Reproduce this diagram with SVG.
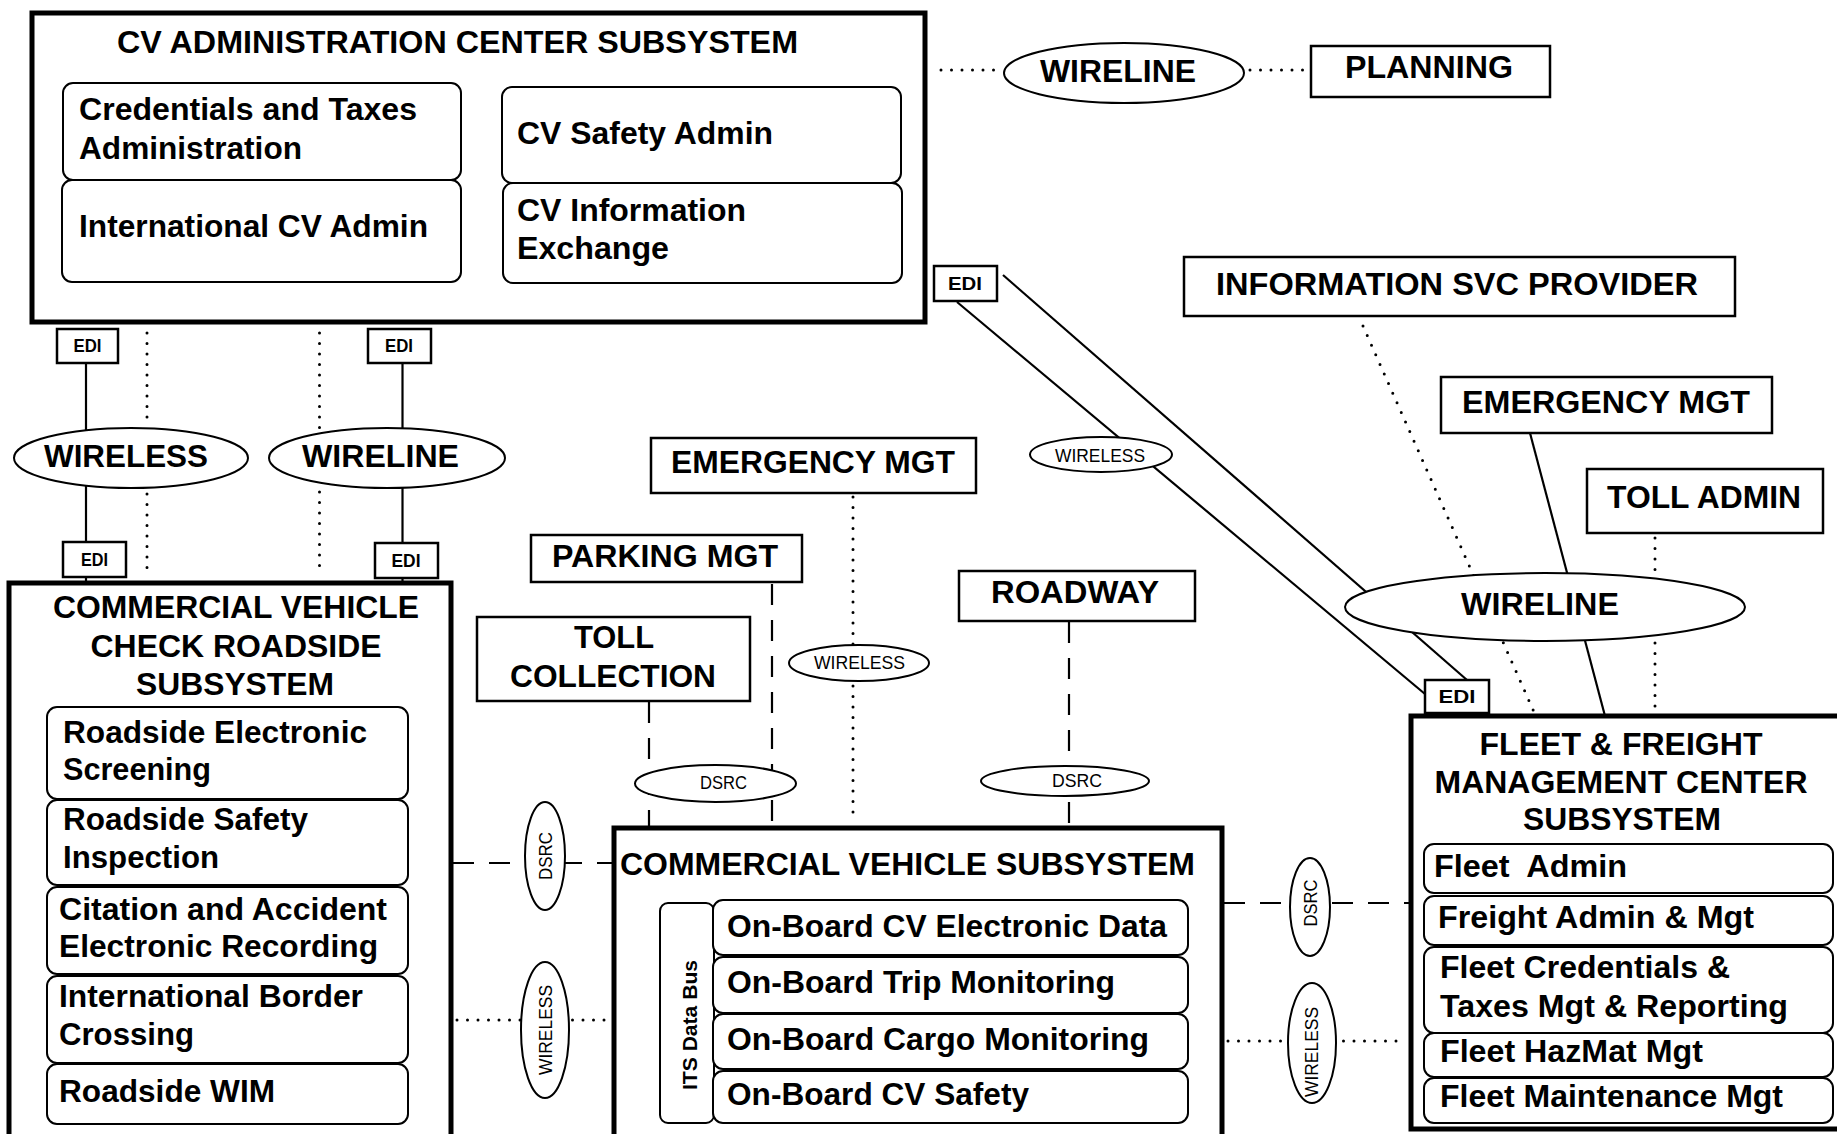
<svg xmlns="http://www.w3.org/2000/svg" width="1837" height="1134" viewBox="0 0 1837 1134">
<style>
  .big{fill:#fff;stroke:#000;stroke-width:5}
  .box{fill:#fff;stroke:#000;stroke-width:2.5}
  .inner{fill:#fff;stroke:#000;stroke-width:2}
  .ell{fill:#fff;stroke:#000;stroke-width:2}
  .solid{fill:none;stroke:#000;stroke-width:2.2}
  .dot{fill:none;stroke:#000;stroke-width:3;stroke-linecap:round;stroke-dasharray:0 10.5}
  .dash{fill:none;stroke:#000;stroke-width:2.2;stroke-dasharray:21 15}
  text{font-family:"Liberation Sans",Arial,sans-serif;fill:#000}
  .t{font-size:32px;font-weight:bold}
  .c{text-anchor:middle}
  .s{font-size:18px}
  .e{font-size:19px;font-weight:bold}
  .bus{font-size:21px;font-weight:bold}
</style>
<rect width="1837" height="1134" fill="#fff"/>

<!-- links between subsystems, with their media and EDI tags -->
<g id="connectors">
  <!-- admin center to planning -->
  <line class="dot" x1="941" y1="70" x2="1003" y2="70"/>
  <line class="dot" x1="1250" y1="70" x2="1309" y2="70"/>
  <!-- admin center to roadside -->
  <line class="solid" x1="86" y1="363" x2="86" y2="583"/>
  <line class="dot" x1="147" y1="333" x2="147" y2="422"/>
  <line class="dot" x1="147" y1="494" x2="147" y2="572"/>
  <line class="dot" x1="319.5" y1="333" x2="319.5" y2="432"/>
  <line class="dot" x1="319.5" y1="492" x2="319.5" y2="570"/>
  <line class="solid" x1="402.5" y1="363" x2="402.5" y2="583"/>
  <!-- admin center to fleet -->
  <line class="solid" x1="957" y1="302" x2="1425" y2="694"/>
  <line class="solid" x1="1003" y1="275" x2="1467" y2="680"/>
  <!-- fleet to ISP, emergency, toll admin -->
  <line class="dot" x1="1363" y1="326" x2="1534" y2="712"/>
  <line class="solid" x1="1530" y1="433" x2="1605" y2="716"/>
  <line class="dot" x1="1655" y1="538" x2="1655" y2="708"/>
  <!-- vehicle to field terminators -->
  <line class="dash" x1="649" y1="702" x2="649" y2="828"/>
  <line class="dash" x1="772" y1="584" x2="772" y2="828"/>
  <line class="dot" x1="853" y1="497" x2="853" y2="820"/>
  <line class="dash" x1="1069" y1="622" x2="1069" y2="828"/>
  <!-- vehicle to roadside and fleet -->
  <line class="dash" x1="453" y1="863" x2="612" y2="863"/>
  <line class="dot" x1="457" y1="1020" x2="608" y2="1020"/>
  <line class="dash" x1="1224" y1="903" x2="1409" y2="903"/>
  <line class="dot" x1="1228" y1="1041" x2="1403" y2="1041"/>

  <!-- media -->
  <g id="m-wireline-planning">
    <ellipse class="ell" cx="1124" cy="73" rx="120" ry="30"/>
    <text class="t c" x="1118" y="82" textLength="156" lengthAdjust="spacingAndGlyphs">WIRELINE</text>
  </g>
  <g id="m-wireless-roadside">
    <ellipse class="ell" cx="131" cy="458" rx="117" ry="30"/>
    <text class="t c" x="126" y="467" textLength="164" lengthAdjust="spacingAndGlyphs">WIRELESS</text>
  </g>
  <g id="m-wireline-roadside">
    <ellipse class="ell" cx="387" cy="458" rx="118" ry="30"/>
    <text class="t c" x="380.5" y="467" textLength="157" lengthAdjust="spacingAndGlyphs">WIRELINE</text>
  </g>
  <g id="m-wireless-fleet">
    <ellipse class="ell" cx="1101" cy="454.5" rx="71" ry="17.5"/>
    <text class="s c" x="1100" y="462" textLength="90" lengthAdjust="spacingAndGlyphs">WIRELESS</text>
  </g>
  <g id="m-wireline-fleet">
    <ellipse class="ell" cx="1545" cy="607" rx="200" ry="34"/>
    <text class="t c" x="1540" y="615" textLength="158" lengthAdjust="spacingAndGlyphs">WIRELINE</text>
  </g>
  <g id="m-wireless-em">
    <ellipse class="ell" cx="859" cy="663" rx="70" ry="18"/>
    <text class="s c" x="859.5" y="669" textLength="91" lengthAdjust="spacingAndGlyphs">WIRELESS</text>
  </g>
  <g id="m-dsrc-toll">
    <ellipse class="ell" cx="715.5" cy="783.5" rx="80.5" ry="18.5"/>
    <text class="s c" x="723.5" y="789" textLength="47" lengthAdjust="spacingAndGlyphs">DSRC</text>
  </g>
  <g id="m-dsrc-roadway">
    <ellipse class="ell" cx="1065" cy="781" rx="84" ry="15"/>
    <text class="s c" x="1077" y="787" textLength="50" lengthAdjust="spacingAndGlyphs">DSRC</text>
  </g>
  <g id="m-dsrc-left">
    <ellipse class="ell" cx="545" cy="856" rx="20" ry="54"/>
    <text class="s c" transform="translate(551.5 856) rotate(-90)" textLength="48" lengthAdjust="spacingAndGlyphs">DSRC</text>
  </g>
  <g id="m-wireless-left">
    <ellipse class="ell" cx="545" cy="1030" rx="24" ry="68"/>
    <text class="s c" transform="translate(551.5 1030) rotate(-90)" textLength="90" lengthAdjust="spacingAndGlyphs">WIRELESS</text>
  </g>
  <g id="m-dsrc-right">
    <ellipse class="ell" cx="1310" cy="907" rx="20" ry="49"/>
    <text class="s c" transform="translate(1316.5 903) rotate(-90)" textLength="47" lengthAdjust="spacingAndGlyphs">DSRC</text>
  </g>
  <g id="m-wireless-right">
    <ellipse class="ell" cx="1312" cy="1043" rx="24" ry="60"/>
    <text class="s c" transform="translate(1317.5 1052) rotate(-90)" textLength="90" lengthAdjust="spacingAndGlyphs">WIRELESS</text>
  </g>

  <!-- EDI tags -->
  <g id="edi-admin-fleet">
    <rect class="box" x="934" y="266" width="63" height="35"/>
    <text class="e c" x="965" y="290" textLength="34" lengthAdjust="spacingAndGlyphs">EDI</text>
  </g>
  <g id="edi-admin-1">
    <rect class="box" x="57" y="329" width="61" height="34"/>
    <text class="e c" x="87.5" y="352" textLength="28" lengthAdjust="spacingAndGlyphs">EDI</text>
  </g>
  <g id="edi-roadside-1">
    <rect class="box" x="63" y="542" width="63" height="35"/>
    <text class="e c" x="94.5" y="566" textLength="27" lengthAdjust="spacingAndGlyphs">EDI</text>
  </g>
  <g id="edi-admin-2">
    <rect class="box" x="368" y="329" width="63" height="34"/>
    <text class="e c" x="399" y="352" textLength="28" lengthAdjust="spacingAndGlyphs">EDI</text>
  </g>
  <g id="edi-roadside-2">
    <rect class="box" x="375" y="543" width="63" height="35"/>
    <text class="e c" x="406" y="567" textLength="29" lengthAdjust="spacingAndGlyphs">EDI</text>
  </g>
  <g id="edi-fleet">
    <rect class="box" x="1425" y="680" width="64" height="33"/>
    <text class="e c" x="1457" y="703" textLength="37" lengthAdjust="spacingAndGlyphs">EDI</text>
  </g>
</g>

<!-- CV administration center -->
<g id="cv-admin-center">
  <rect class="big" x="32" y="13" width="893" height="309"/>
  <text class="t" x="117" y="53" textLength="681" lengthAdjust="spacingAndGlyphs">CV ADMINISTRATION CENTER SUBSYSTEM</text>
  <rect class="inner" x="63" y="83" width="398" height="97" rx="10"/>
  <text class="t" x="79" y="120" textLength="338" lengthAdjust="spacingAndGlyphs">Credentials and Taxes</text>
  <text class="t" x="79" y="159" textLength="223" lengthAdjust="spacingAndGlyphs">Administration</text>
  <rect class="inner" x="62" y="180" width="399" height="102" rx="10"/>
  <text class="t" x="79" y="237" textLength="349" lengthAdjust="spacingAndGlyphs">International CV Admin</text>
  <rect class="inner" x="502" y="87" width="399" height="96" rx="10"/>
  <text class="t" x="517" y="144" textLength="256" lengthAdjust="spacingAndGlyphs">CV Safety Admin</text>
  <rect class="inner" x="503" y="183" width="399" height="100" rx="10"/>
  <text class="t" x="517" y="221" textLength="229" lengthAdjust="spacingAndGlyphs">CV Information</text>
  <text class="t" x="517" y="259" textLength="152" lengthAdjust="spacingAndGlyphs">Exchange</text>
</g>

<g id="planning">
  <rect class="box" x="1311" y="46" width="239" height="51"/>
  <text class="t c" x="1429" y="78" textLength="168" lengthAdjust="spacingAndGlyphs">PLANNING</text>
</g>

<g id="information-svc-provider">
  <rect class="box" x="1184" y="257" width="551" height="59"/>
  <text class="t c" x="1457" y="295" textLength="482" lengthAdjust="spacingAndGlyphs">INFORMATION SVC PROVIDER</text>
</g>

<g id="emergency-mgt-fleet">
  <rect class="box" x="1441" y="377" width="331" height="56"/>
  <text class="t c" x="1606" y="413" textLength="288" lengthAdjust="spacingAndGlyphs">EMERGENCY MGT</text>
</g>

<g id="toll-admin">
  <rect class="box" x="1587" y="469" width="236" height="64"/>
  <text class="t c" x="1704" y="508" textLength="194" lengthAdjust="spacingAndGlyphs">TOLL ADMIN</text>
</g>

<g id="emergency-mgt-vehicle">
  <rect class="box" x="651" y="438" width="325" height="55"/>
  <text class="t c" x="813" y="473" textLength="284" lengthAdjust="spacingAndGlyphs">EMERGENCY MGT</text>
</g>

<g id="parking-mgt">
  <rect class="box" x="531" y="535" width="271" height="47"/>
  <text class="t c" x="665" y="567" textLength="226" lengthAdjust="spacingAndGlyphs">PARKING MGT</text>
</g>

<g id="toll-collection">
  <rect class="box" x="477" y="617" width="273" height="84"/>
  <text class="t c" x="614" y="648" textLength="80" lengthAdjust="spacingAndGlyphs">TOLL</text>
  <text class="t c" x="613" y="687" textLength="206" lengthAdjust="spacingAndGlyphs">COLLECTION</text>
</g>

<g id="roadway">
  <rect class="box" x="959" y="571" width="236" height="50"/>
  <text class="t c" x="1075" y="603" textLength="168" lengthAdjust="spacingAndGlyphs">ROADWAY</text>
</g>

<!-- commercial vehicle check roadside -->
<g id="cv-check-roadside">
  <rect class="big" x="9" y="583" width="442" height="580"/>
  <text class="t c" x="236" y="618" textLength="366" lengthAdjust="spacingAndGlyphs">COMMERCIAL VEHICLE</text>
  <text class="t c" x="236" y="657" textLength="291" lengthAdjust="spacingAndGlyphs">CHECK ROADSIDE</text>
  <text class="t c" x="235" y="695" textLength="198" lengthAdjust="spacingAndGlyphs">SUBSYSTEM</text>
  <rect class="inner" x="47" y="707" width="361" height="92" rx="10"/>
  <text class="t" x="63" y="743" textLength="304" lengthAdjust="spacingAndGlyphs">Roadside Electronic</text>
  <text class="t" x="63" y="780" textLength="148" lengthAdjust="spacingAndGlyphs">Screening</text>
  <rect class="inner" x="47" y="800" width="361" height="85" rx="10"/>
  <text class="t" x="63" y="830" textLength="245" lengthAdjust="spacingAndGlyphs">Roadside Safety</text>
  <text class="t" x="63" y="868" textLength="156" lengthAdjust="spacingAndGlyphs">Inspection</text>
  <rect class="inner" x="47" y="887" width="361" height="87" rx="10"/>
  <text class="t" x="59" y="920" textLength="328" lengthAdjust="spacingAndGlyphs">Citation and Accident</text>
  <text class="t" x="59" y="957" textLength="319" lengthAdjust="spacingAndGlyphs">Electronic Recording</text>
  <rect class="inner" x="47" y="976" width="361" height="87" rx="10"/>
  <text class="t" x="59" y="1007" textLength="304" lengthAdjust="spacingAndGlyphs">International Border</text>
  <text class="t" x="59" y="1045" textLength="135" lengthAdjust="spacingAndGlyphs">Crossing</text>
  <rect class="inner" x="47" y="1064" width="361" height="60" rx="10"/>
  <text class="t" x="59" y="1102" textLength="216" lengthAdjust="spacingAndGlyphs">Roadside WIM</text>
</g>

<!-- commercial vehicle -->
<g id="commercial-vehicle">
  <rect class="big" x="614" y="828" width="608" height="330"/>
  <text class="t" x="620" y="875" textLength="575" lengthAdjust="spacingAndGlyphs">COMMERCIAL VEHICLE SUBSYSTEM</text>
  <rect class="inner" x="660" y="903" width="54" height="220" rx="8"/>
  <text class="bus c" transform="translate(697 1025) rotate(-90)" textLength="130" lengthAdjust="spacingAndGlyphs">ITS Data Bus</text>
  <rect class="inner" x="713" y="900" width="475" height="55" rx="10"/>
  <text class="t" x="727" y="937" textLength="440" lengthAdjust="spacingAndGlyphs">On-Board CV Electronic Data</text>
  <rect class="inner" x="713" y="957" width="475" height="56" rx="10"/>
  <text class="t" x="727" y="993" textLength="388" lengthAdjust="spacingAndGlyphs">On-Board Trip Monitoring</text>
  <rect class="inner" x="713" y="1014" width="475" height="55" rx="10"/>
  <text class="t" x="727" y="1050" textLength="422" lengthAdjust="spacingAndGlyphs">On-Board Cargo Monitoring</text>
  <rect class="inner" x="713" y="1071" width="475" height="52" rx="10"/>
  <text class="t" x="727" y="1105" textLength="302" lengthAdjust="spacingAndGlyphs">On-Board CV Safety</text>
</g>

<!-- fleet and freight management center -->
<g id="fleet-freight-mgt">
  <rect class="big" x="1411" y="716" width="440" height="413"/>
  <text class="t c" x="1621" y="755" textLength="283" lengthAdjust="spacingAndGlyphs">FLEET &amp; FREIGHT</text>
  <text class="t c" x="1621" y="793" textLength="373" lengthAdjust="spacingAndGlyphs">MANAGEMENT CENTER</text>
  <text class="t c" x="1622" y="830" textLength="198" lengthAdjust="spacingAndGlyphs">SUBSYSTEM</text>
  <rect class="inner" x="1424" y="844" width="409" height="49" rx="10"/>
  <text class="t" x="1434" y="877" xml:space="preserve" textLength="193" lengthAdjust="spacingAndGlyphs">Fleet  Admin</text>
  <rect class="inner" x="1424" y="896" width="409" height="49" rx="10"/>
  <text class="t" x="1438" y="928" textLength="316" lengthAdjust="spacingAndGlyphs">Freight Admin &amp; Mgt</text>
  <rect class="inner" x="1424" y="947" width="409" height="86" rx="10"/>
  <text class="t" x="1440" y="978" textLength="290" lengthAdjust="spacingAndGlyphs">Fleet Credentials &amp;</text>
  <text class="t" x="1440" y="1017" textLength="348" lengthAdjust="spacingAndGlyphs">Taxes Mgt &amp; Reporting</text>
  <rect class="inner" x="1424" y="1033" width="409" height="44" rx="10"/>
  <text class="t" x="1440" y="1062" textLength="263" lengthAdjust="spacingAndGlyphs">Fleet HazMat Mgt</text>
  <rect class="inner" x="1424" y="1078" width="409" height="45" rx="10"/>
  <text class="t" x="1440" y="1107" textLength="343" lengthAdjust="spacingAndGlyphs">Fleet Maintenance Mgt</text>
</g>
</svg>
